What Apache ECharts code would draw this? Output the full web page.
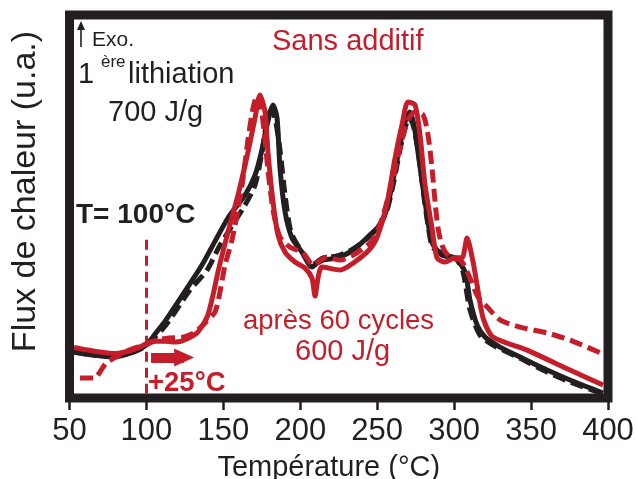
<!DOCTYPE html>
<html>
<head>
<meta charset="utf-8">
<script src="https://cdn.jsdelivr.net/npm/echarts@6/dist/echarts.min.js"></script>
<style>
html,body{margin:0;padding:0;background:#fff;}
#c{width:637px;height:479px;}
</style>
</head>
<body>
<div id="c"></div>
<script>
// ---- data (temperature in °C, heat flux in arbitrary units) ----
const xTicks = [50, 100, 150, 200, 250, 300, 350, 400];

const blackSolidT = [52.9,65.3,78.3,91.3,99.7,106.2,112.7,126.4,136.1,153.0,164.1,170.6,175.1,178.4,182.3,184.9,186.8,190.1,194.6,201.1,207.6,210.9,214.8,223.9,234.3,245.3,251.8,256.4,260.3,264.8,268.1,271.3,273.9,276.5,281.1,285.6,292.1,300.6,307.1,310.3,314.9,320.1,329.8,342.8,360.4,375.3,396.8];
const blackSolidF = [12.0,11.2,10.7,12.0,13.8,17.0,20.4,28.7,34.7,47.0,53.0,58.2,64.8,71.3,76.5,73.1,60.1,48.6,41.8,38.1,34.2,35.2,36.0,36.6,38.6,42.6,45.2,49.6,56.9,66.1,72.1,74.7,71.3,64.2,51.2,40.7,37.3,36.6,32.9,25.6,19.1,15.9,13.3,10.7,7.3,4.7,1.3];

const blackDashT = [52.9,65.3,78.3,91.3,99.7,112.7,128.3,139.4,147.8,164.1,170.6,175.1,178.4,181.0,183.6,186.8,190.1,194.0,201.1,207.6,210.9,214.8,223.9,234.3,245.3,251.8,256.4,260.3,264.8,268.1,270.7,273.3,276.5,279.8,283.0,286.3,295.4,301.9,305.8,310.3,316.8,325.3,342.8,360.4,375.3,396.8];
const blackDashF = [12.0,11.2,11.0,12.0,13.6,19.1,28.2,33.4,39.9,50.4,55.6,64.2,72.6,75.2,73.1,64.8,53.0,43.3,38.1,34.7,35.5,36.6,37.1,38.9,42.3,45.4,49.1,55.6,64.8,70.5,73.1,71.3,64.8,54.3,45.2,39.2,37.3,36.0,32.9,23.0,16.4,13.8,10.4,6.8,4.2,1.0];

const redSolidT = [52.9,60.7,69.8,80.2,91.3,99.7,106.2,112.7,119.2,125.1,132.9,137.4,140.0,143.3,146.5,153.0,159.5,166.0,170.6,173.8,177.1,179.0,182.3,185.5,190.1,196.6,203.1,207.6,209.6,211.5,214.1,225.8,234.3,245.3,250.5,256.4,261.6,266.1,270.0,274.6,277.8,281.1,285.6,288.9,294.1,300.6,305.1,308.4,312.3,314.9,318.8,325.3,347.4,375.3,396.8];
const redSolidF = [13.2,12.6,12.0,11.6,12.6,14.0,14.8,14.8,14.6,15.2,17.0,19.6,21.7,26.9,32.9,43.3,53.0,64.2,73.1,79.1,74.7,64.2,51.2,42.6,38.1,35.5,33.9,31.3,26.6,31.3,34.2,33.4,35.2,38.9,42.6,50.9,62.7,71.3,77.3,76.5,68.7,55.6,44.4,36.6,35.5,36.6,36.6,41.8,35.5,29.5,20.9,15.9,12.5,7.3,3.4];

const redDashT = [56.8,65.9,73.7,80.2,88.7,97.8,106.2,114.7,123.8,131.6,138.1,144.6,147.8,151.1,155.6,159.5,162.8,166.0,169.3,171.9,173.8,176.4,179.0,182.3,186.8,193.3,201.8,208.3,211.5,217.4,225.8,234.3,245.3,251.8,258.3,264.8,270.0,274.6,279.8,283.0,285.6,287.6,289.5,292.1,296.0,305.1,310.3,315.5,321.4,329.8,342.8,360.4,375.3,396.8];
const redDashF = [5.2,5.2,9.1,10.7,12.5,13.8,15.1,15.7,15.9,17.2,19.6,22.5,27.7,34.7,41.3,49.1,57.4,67.4,75.7,78.9,77.8,70.0,59.5,49.1,42.0,39.4,37.9,34.7,35.5,36.8,36.0,37.3,40.5,45.2,54.3,65.3,72.6,74.7,73.9,68.7,60.1,51.2,44.4,39.9,37.3,35.5,31.3,26.4,23.8,20.4,18.5,17.0,15.1,11.5];

// annotation values
const onsetLineT = 100;           // T = 100 °C marker
const onsetLineF = [41.3, 0];     // vertical extent of marker
const shiftArrowT = [103, 124.5]; // +25 °C shift arrow (shaft start, head centre)
const shiftArrowF = 10.6;

const zip = (a, b) => a.map((v, i) => [v, b[i]]);

const BLACK = '#231f20';
const RED = '#c41e2a';
const FONT = '"Liberation Sans", Arial, Helvetica, sans-serif';

const chart = echarts.init(document.getElementById('c'), null, {renderer: 'canvas'});

const lineSeries = (name, data, color, dashed, z) => ({
  name, type: 'line', data, showSymbol: false, symbol: 'none',
  smooth: 0.25, z,
  lineStyle: {color, width: 5, type: dashed ? [13, 6] : 'solid', cap: 'butt', join: 'round'},
  animation: false
});

const option = {
  animation: false,
  backgroundColor: '#fff',
  grid: {left: 69.5, right: 29, top: 15, bottom: 81, outerBoundsMode: 'none', containLabel: false,
    show: true, borderWidth: 9, borderColor: BLACK, backgroundColor: 'transparent'},
  xAxis: {
    type: 'value', min: 50, max: 400, interval: 50,
    axisLine: {show: false},
    axisTick: {show: true, length: 12, lineStyle: {color: BLACK, width: 2.5}},
    axisLabel: {fontSize: 31, color: BLACK, fontFamily: FONT, margin: 18,
      formatter: v => xTicks.includes(v) ? String(v) : ''},
    splitLine: {show: false},
    name: 'Température (°C)', nameLocation: 'middle', nameGap: 55,
    nameTextStyle: {fontSize: 29, color: BLACK, fontFamily: FONT, padding: [0, 20, 0, 0]}
  },
  yAxis: {
    type: 'value', min: 0, max: 100,
    axisLine: {show: false}, axisTick: {show: false}, axisLabel: {show: false},
    splitLine: {show: false},
    name: 'Flux de chaleur (u.a.)', nameLocation: 'middle', nameGap: 27,
    nameTextStyle: {fontSize: 34, color: BLACK, fontFamily: FONT, padding: [0, 0, 0, 30]}
  },
  series: [
    lineSeries('noir pointillé', zip(blackDashT, blackDashF), BLACK, true, 2),
    lineSeries('noir', zip(blackSolidT, blackSolidF), BLACK, false, 3),
    Object.assign(lineSeries('rouge pointillé', zip(redDashT, redDashF), RED, true, 4), {
      markLine: {
        silent: true, animation: false, label: {show: false},
        data: [
          [{coord: [onsetLineT, onsetLineF[0]], symbol: 'none', lineStyle: {color: RED, width: 3, type: [10, 6]}},
           {coord: [onsetLineT, onsetLineF[1]], symbol: 'none'}],
          [{coord: [shiftArrowT[0], shiftArrowF], symbol: 'none', lineStyle: {color: RED, width: 10, type: 'solid'}},
           {coord: [shiftArrowT[1], shiftArrowF], symbol: 'triangle', symbolSize: [18, 20]}]
        ]
      }
    }),
    lineSeries('rouge', zip(redSolidT, redSolidF), RED, false, 5)
  ],
  graphic: [
    {type: 'line', shape: {x1: 81, y1: 47, x2: 81, y2: 25}, style: {stroke: BLACK, lineWidth: 1.6}, z: 10},
    {type: 'polygon', shape: {points: [[77, 30], [81, 21], [85, 30]]}, style: {fill: BLACK}, z: 10},
    {type: 'text', x: 92, y: 40, style: {text: 'Exo.', font: '21px ' + FONT, fill: BLACK, verticalAlign: 'middle'}, z: 10},
    {type: 'text', x: 78, y: 75, style: {text: '1', font: '29px ' + FONT, fill: BLACK, verticalAlign: 'middle'}, z: 10},
    {type: 'text', x: 101, y: 62, style: {text: 'ère', font: '17px ' + FONT, fill: BLACK, verticalAlign: 'middle'}, z: 10},
    {type: 'text', x: 128, y: 75, style: {text: 'lithiation', font: '29px ' + FONT, fill: BLACK, verticalAlign: 'middle'}, z: 10},
    {type: 'text', x: 108, y: 113, style: {text: '700 J/g', font: '29px ' + FONT, fill: BLACK, verticalAlign: 'middle'}, z: 10},
    {type: 'text', x: 272, y: 42, style: {text: 'Sans additif', font: '29px ' + FONT, fill: RED, verticalAlign: 'middle'}, z: 10},
    {type: 'text', x: 76, y: 215, style: {text: 'T= 100°C', font: 'bold 28px ' + FONT, fill: BLACK, verticalAlign: 'middle'}, z: 10},
    {type: 'text', x: 243, y: 321, style: {text: 'après 60 cycles', font: '27.5px ' + FONT, fill: RED, verticalAlign: 'middle'}, z: 10},
    {type: 'text', x: 295, y: 352, style: {text: '600 J/g', font: '29px ' + FONT, fill: RED, verticalAlign: 'middle'}, z: 10},
    {type: 'text', x: 148, y: 383, style: {text: '+25°C', font: 'bold 27.5px ' + FONT, fill: RED, verticalAlign: 'middle'}, z: 10}
  ]
};
chart.setOption(option);
</script>
</body>
</html>
